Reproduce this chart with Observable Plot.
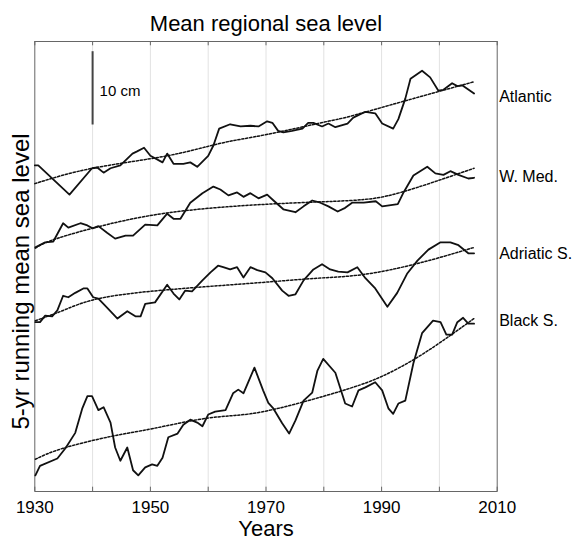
<!DOCTYPE html>
<html><head><meta charset="utf-8">
<script src="https://cdn.jsdelivr.net/npm/d3@7"></script>
<script src="https://cdn.jsdelivr.net/npm/@observablehq/plot@0.6"></script>
<style>body{margin:0;background:#fff} svg{display:block}</style>
</head><body><div id="chart"></div>
<script>
// ---- data (cm, arbitrary offsets per series as in the reference) ----
const atlantic = [[1930,44.5],[1930.6,44.5],[1936.0,40.5],[1939.9,44.1],[1940.8,44.2],[1941.9,43.5],[1943.1,44.1],[1944.8,44.5],[1946.9,46.1],[1947.7,46.4],[1948.9,46.9],[1950.0,45.8],[1952.1,44.9],[1952.9,46.1],[1954.0,44.7],[1955.7,44.7],[1956.9,44.9],[1958.1,44.3],[1960.0,45.8],[1960.9,47.2],[1961.9,49.5],[1963.8,50.1],[1965.6,49.8],[1967.3,49.9],[1968.7,49.8],[1970.2,50.5],[1971.1,50.3],[1972.1,49.2],[1973.0,49.0],[1974.5,49.2],[1976.3,49.5],[1977.3,50.3],[1978.2,50.3],[1979.7,49.8],[1980.8,50.2],[1982.0,49.7],[1984.1,50.2],[1985.1,51.0],[1987.2,51.8],[1988.9,51.6],[1990.1,50.2],[1992.0,49.5],[1992.9,50.8],[1994.1,53.6],[1995.0,56.3],[1997.0,57.4],[1998.4,56.5],[1999.8,54.7],[2000.7,54.8],[2002.2,55.7],[2003.1,55.3],[2004.0,55.4],[2006.0,54.3]];
const atlanticTrend = [[1930,42.0],[1940,44.1],[1952.9,45.8],[1962.1,47.5],[1970.1,48.7],[1980.1,50.4],[1984.6,51.2],[1994.1,53.3],[2006,55.9]];

const wMed = [[1930.1,33.3],[1931.8,34.0],[1933.2,34.1],[1934.9,36.6],[1935.8,36.0],[1937.9,36.6],[1939.1,36.3],[1940.0,35.9],[1941.0,36.2],[1942.5,35.3],[1943.9,34.5],[1945.7,34.9],[1947.0,34.9],[1949.1,36.4],[1951.2,36.3],[1952.9,37.9],[1954.0,37.2],[1955.2,37.2],[1956.9,39.4],[1959.0,40.7],[1960.9,41.6],[1962.1,41.2],[1963.5,40.4],[1965.0,40.8],[1966.1,40.2],[1967.3,40.7],[1968.7,40.0],[1970.2,40.5],[1971.3,39.7],[1973.0,38.5],[1975.1,38.1],[1976.5,38.9],[1978.0,39.7],[1979.4,39.4],[1980.8,38.9],[1982.4,38.2],[1983.7,38.7],[1984.9,39.4],[1986.9,39.4],[1989.0,39.6],[1990.1,38.9],[1992.8,39.2],[1993.8,40.8],[1995.5,43.1],[1997.9,44.3],[1999.3,43.4],[2000.7,43.2],[2001.9,43.7],[2003.3,43.2],[2005.0,42.7],[2006.0,42.8]];
const wMedTrend = [[1930.1,33.2],[1932.7,34.2],[1939.9,35.9],[1952.9,38.0],[1970.4,39.2],[1984.6,39.7],[1993.3,40.8],[2006,44.1]];

const adriatic = [[1930.1,23.1],[1930.9,23.1],[1931.8,24.0],[1933.0,23.9],[1933.9,24.7],[1934.9,26.7],[1935.8,26.5],[1937.0,27.1],[1938.4,27.7],[1939.1,27.7],[1940.1,26.5],[1941.0,26.3],[1942.5,25.1],[1944.3,23.6],[1946.0,24.6],[1947.4,23.9],[1948.3,23.9],[1949.1,25.6],[1950.8,25.8],[1952.9,28.2],[1954.0,27.0],[1955.0,26.2],[1956.0,27.4],[1957.2,27.3],[1959.0,28.8],[1960.4,29.9],[1961.7,30.8],[1962.6,30.6],[1963.8,30.3],[1965.0,30.6],[1966.1,29.2],[1967.3,30.6],[1968.5,30.2],[1969.9,29.9],[1971.1,29.1],[1972.8,27.4],[1973.9,26.7],[1975.1,26.9],[1976.5,28.8],[1978.2,30.3],[1979.7,31.0],[1981.1,30.3],[1982.5,30.0],[1984.1,29.9],[1985.8,30.6],[1987.2,29.1],[1988.9,27.7],[1991.0,25.2],[1992.7,27.1],[1994.4,29.7],[1996.2,31.5],[1998.1,33.0],[2000.2,34.0],[2001.9,34.0],[2003.3,33.6],[2005.0,32.5],[2006.0,32.5]];
const adriaticTrend = [[1930.1,23.3],[1934.9,24.7],[1939.9,26.1],[1949.9,27.3],[1967.3,28.4],[1978.9,29.1],[1986.8,29.6],[1996.2,31.1],[2006,33.3]];

const blackSea = [[1930.1,2.2],[1930.9,3.5],[1933.9,4.5],[1935.3,5.9],[1937.0,8.0],[1938.2,11.3],[1939.1,13.0],[1939.9,13.0],[1941.0,11.1],[1941.9,11.5],[1943.1,9.4],[1943.9,6.0],[1944.8,4.2],[1946.0,6.0],[1947.0,2.9],[1947.9,2.2],[1949.1,3.3],[1950.3,3.7],[1951.2,3.5],[1952.1,4.6],[1953.1,7.4],[1954.7,7.9],[1955.7,9.1],[1956.9,9.8],[1958.1,9.4],[1959.0,8.9],[1960.0,10.5],[1961.2,10.9],[1963.0,11.1],[1964.3,13.4],[1965.2,13.9],[1966.1,13.4],[1968.0,16.9],[1969.5,13.8],[1970.4,12.1],[1971.3,11.3],[1972.8,9.3],[1974.0,7.9],[1975.1,9.7],[1976.5,12.4],[1978.0,13.5],[1978.9,16.5],[1979.9,18.1],[1982.0,16.2],[1983.7,12.0],[1984.9,11.6],[1986.0,13.8],[1987.2,14.2],[1988.9,14.9],[1990.1,13.8],[1991.2,11.3],[1992.0,10.6],[1992.9,12.0],[1994.1,12.4],[1995.5,17.5],[1997.0,21.6],[1998.9,23.3],[2000.2,23.1],[2001.2,21.4],[2002.2,21.4],[2003.1,23.1],[2004.1,23.7],[2005.0,22.9],[2006.0,22.9]];
const blackSeaTrend = [[1930.1,4.4],[1934.9,5.9],[1943.1,7.5],[1950.5,8.6],[1959.8,10.0],[1967.3,10.6],[1975.9,12.1],[1984.6,14.1],[1990.3,15.8],[1996.2,18.3],[2001.9,21.3],[2006,23.6]];

const seriesNames = ["Atlantic", "W. Med.", "Adriatic S.", "Black S."];
const seriesLabelLevels = [53.8, 42.9, 32.4, 23.3];
const xTickLabels = [1930, 1950, 1970, 1990, 2010];
const tickYears = [1930, 1940, 1950, 1960, 1970, 1980, 1990, 2000, 2010];
const gridYears = [1940, 1950, 1960, 1970, 1980, 1990, 2000];
const scaleBar = {year: 1940, from: 50, to: 60, labelLevel: 54.6, label: "10 cm"};

// ---- build tables ----
const seriesData = [atlantic, wMed, adriatic, blackSea];
const seriesTrend = [atlanticTrend, wMedTrend, adriaticTrend, blackSeaTrend];
const lineRows = seriesNames.flatMap((name, i) => seriesData[i].map(([year, level]) => ({name, year, level})));
const trendRows = seriesNames.flatMap((name, i) => seriesTrend[i].map(([year, level]) => ({name, year, level})));
const labelRows = seriesNames.map((name, i) => ({name, year: 2010, level: seriesLabelLevels[i]}));

const pxPerCm = 7.33;
const frameH = 450;
const font = "'Liberation Sans', Arial, Helvetica, sans-serif";

const chart = Plot.plot({
  width: 572, height: 541,
  marginLeft: 34.3, marginRight: 75.3, marginTop: 41, marginBottom: 50,
  style: {fontFamily: font, fontSize: "17px", background: "#fff", color: "#000", overflow: "visible"},
  x: {domain: [1930, 2010]},
  y: {domain: [0, frameH / pxPerCm], axis: null},
  marks: [
    Plot.ruleX(gridYears, {stroke: "#e2e2e2", strokeWidth: 1}),
    Plot.ruleX(tickYears, {stroke: "#666", insetTop: frameH - 4.3}),
    Plot.ruleX(tickYears, {stroke: "#666", insetBottom: frameH - 4.3}),
    Plot.frame({stroke: "#666", strokeWidth: 1}),
    Plot.line(trendRows, {x: "year", y: "level", z: "name", curve: "natural", stroke: "#111", strokeWidth: 1.5, strokeDasharray: "2.2,1.8"}),
    Plot.line(lineRows, {x: "year", y: "level", z: "name", stroke: "#111", strokeWidth: 1.8, strokeLinejoin: "round"}),
    Plot.ruleX([scaleBar], {x: "year", y1: "from", y2: "to", stroke: "#444", strokeWidth: 2}),
    Plot.text([scaleBar], {x: "year", y: "labelLevel", text: "label", dx: 7, textAnchor: "start", lineAnchor: "middle", fontSize: 15, fill: "#000"}),
    Plot.text(labelRows, {x: "year", y: "level", text: "name", dx: 2, textAnchor: "start", lineAnchor: "middle", fontSize: 16, fill: "#000"}),
    Plot.axisX({ticks: xTickLabels, tickSize: 0, tickPadding: 9, tickFormat: d => String(d), label: null, fontSize: 17}),
    Plot.text(["Mean regional sea level"], {frameAnchor: "top", dy: -18, lineAnchor: "middle", fontSize: 22, fill: "#000"}),
    Plot.text(["Years"], {frameAnchor: "bottom", dy: 37, lineAnchor: "middle", fontSize: 22, fill: "#000"}),
    Plot.text(["5-yr running mean sea level"], {frameAnchor: "left", dx: -13.5, dy: 15, rotate: -90, lineAnchor: "middle", textAnchor: "middle", fontSize: 24, fill: "#000"})
  ]
});
document.getElementById("chart").appendChild(chart);
</script>
</body></html>
